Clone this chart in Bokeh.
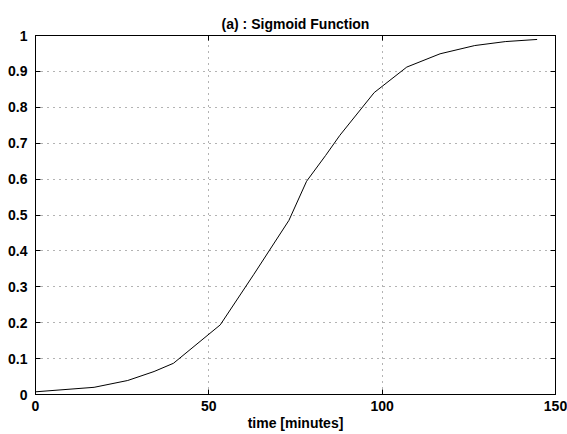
from bokeh.plotting import figure
from bokeh.models import Range1d, FixedTicker, LinearAxis
from bokeh.embed import file_html
from bokeh.resources import INLINE

time_min = [0, 16.9, 26.6, 34.2, 39.8, 53.3, 63.0, 73.1, 78.2, 83.7, 87.8, 97.7, 107.1, 116.7, 126.7, 135.5, 144.7]
sigmoid = [0.0075, 0.020, 0.039, 0.064, 0.087, 0.194, 0.335, 0.485, 0.594, 0.666, 0.722, 0.841, 0.912, 0.949, 0.972, 0.983, 0.989]
x_ticks = [0, 50, 100, 150]
y_ticks = [0, 0.1, 0.2, 0.3, 0.4, 0.5, 0.6, 0.7, 0.8, 0.9, 1.0]
y_tick_labels = ["0", "0.1", "0.2", "0.3", "0.4", "0.5", "0.6", "0.7", "0.8", "0.9", "1"]

FONT = "Liberation Sans"

p = figure(width=567, height=434, output_backend="svg", toolbar_location=None,
           x_range=Range1d(0, 150), y_range=Range1d(0, 1),
           min_border_left=35, min_border_right=12, min_border_top=35, min_border_bottom=40,
           x_axis_label="time [minutes]")
p.background_fill_color = "white"
p.border_fill_color = "white"
p.outline_line_color = "black"
p.outline_line_width = 1

p.title.text = "(a) : Sigmoid Function"
p.title.align = "center"
p.title.text_font = FONT
p.title.text_font_size = "14px"
p.title.text_font_style = "bold"
p.title.text_color = "black"
p.title.offset = 0
p.title.standoff = 8

p.line(time_min, sigmoid, line_color="black", line_width=1)

for ax in p.xaxis:
    ax.ticker = FixedTicker(ticks=x_ticks)
for ax in p.yaxis:
    ax.ticker = FixedTicker(ticks=y_ticks)
    ax.major_label_overrides = {t: l for t, l in zip(y_ticks, y_tick_labels)}

for ax in list(p.xaxis) + list(p.yaxis):
    ax.major_tick_in = 5
    ax.major_tick_out = 0
    ax.minor_tick_line_color = None
    ax.axis_line_color = "black"
    ax.major_tick_line_color = "black"
    ax.major_label_text_font = FONT
    ax.major_label_text_font_size = "14px"
    ax.major_label_text_font_style = "bold"
    ax.major_label_text_color = "black"
    ax.axis_label_text_font = FONT
    ax.axis_label_text_font_size = "14px"
    ax.axis_label_text_font_style = "bold"
    ax.axis_label_text_color = "black"

p.xaxis.major_label_standoff = 6
p.xaxis.axis_label_standoff = 1
p.yaxis.major_label_standoff = 8

top = LinearAxis(ticker=FixedTicker(ticks=x_ticks), major_label_text_font_size="0px",
                 major_tick_in=5, major_tick_out=0, minor_tick_line_color=None,
                 major_label_standoff=0)
right = LinearAxis(ticker=FixedTicker(ticks=y_ticks), major_label_text_font_size="0px",
                   major_tick_in=5, major_tick_out=0, minor_tick_line_color=None,
                   major_label_standoff=0)
top.major_label_text_color = None
right.major_label_text_color = None
p.add_layout(top, "above")
p.add_layout(right, "right")

p.xgrid.ticker = FixedTicker(ticks=x_ticks)
p.ygrid.ticker = FixedTicker(ticks=y_ticks)
for g in [p.xgrid, p.ygrid]:
    g.grid_line_color = "#666666"
    g.grid_line_dash = "1 5"
    g.grid_line_width = 1

open("out.html", "w").write(file_html(p, INLINE))
